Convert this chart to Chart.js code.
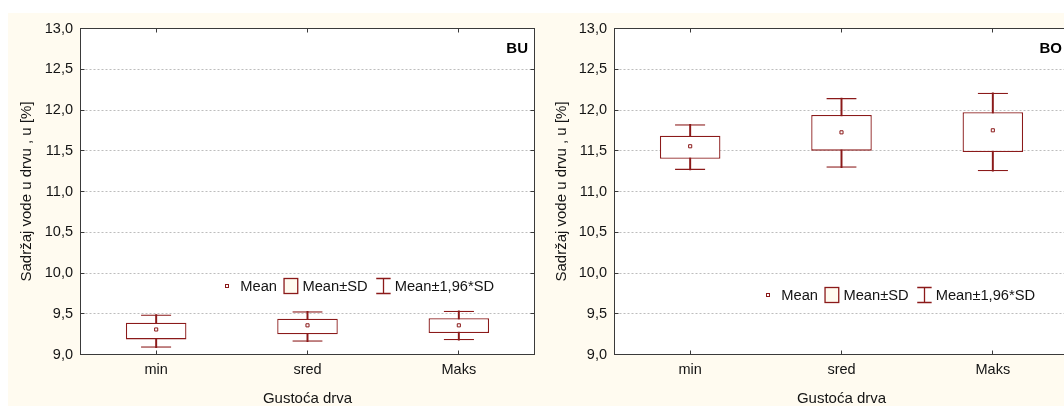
<!DOCTYPE html>
<html>
<head>
<meta charset="utf-8">
<script src="https://cdn.jsdelivr.net/npm/chart.js@4"></script>
<style>
html,body{margin:0;padding:0;background:#fff;overflow:hidden;width:1064px;height:406px;}
#bg{position:absolute;left:8px;top:13px;width:1056px;height:393px;background:#fffbf0;}
.p{position:absolute;top:0;width:540px;height:406px;}
canvas{display:block;}
</style>
</head>
<body>
<div id="bg"></div>
<div class="p" style="left:0px"><canvas id="c1" width="540" height="406"></canvas></div>
<div class="p" style="left:540px"><canvas id="c2" width="540" height="406"></canvas></div>
<script>
// ---------- data ----------
const categories = ['min', 'sred', 'Maks'];
const yTickValues = [9.0, 9.5, 10.0, 10.5, 11.0, 11.5, 12.0, 12.5, 13.0];
const yTickLabels = ['9,0', '9,5', '10,0', '10,5', '11,0', '11,5', '12,0', '12,5', '13,0'];
const xTitle = 'Gustoća drva';
const yTitle = 'Sadržaj vode u drvu , u [%]';
const legendLabels = ['Mean', 'Mean±SD', 'Mean±1,96*SD'];

// BU panel
const buMean   = [9.307, 9.358, 9.358];
const buSdLow  = [9.185, 9.249, 9.264];
const buSdHigh = [9.390, 9.439, 9.444];
const buCiLow  = [9.083, 9.157, 9.175];
const buCiHigh = [9.491, 9.530, 9.537];

// BO panel
const boMean   = [11.555, 11.726, 11.751];
const boSdLow  = [11.402, 11.501, 11.485];
const boSdHigh = [11.685, 11.939, 11.972];
const boCiLow  = [11.264, 11.292, 11.248];
const boCiHigh = [11.825, 12.147, 12.212];

// ---------- styling ----------
const RED = '#8b1a1a';
const FONT = '"Liberation Sans", Arial, Helvetica, sans-serif';
const TXT = '#141414';

function panelPlugin(cfg) {
  return {
    id: 'panel_' + cfg.label,
    beforeDraw(chart) {
      const a = chart.chartArea, ctx = chart.ctx;
      ctx.save();
      ctx.fillStyle = '#ffffff';
      ctx.fillRect(a.left, a.top, a.right - a.left, a.bottom - a.top);
      ctx.restore();
    },
    beforeDatasetsDraw(chart) {
      const a = chart.chartArea, ctx = chart.ctx;
      const ys = chart.scales.y, xs = chart.scales.x;
      ctx.save();
      ctx.lineWidth = 1;
      ctx.strokeStyle = '#bdbdbd';
      ctx.setLineDash([2, 2]);
      yTickValues.forEach(v => {
        if (v <= ys.min || v >= ys.max) return;
        const y = Math.floor(ys.getPixelForValue(v)) + 0.5;
        ctx.beginPath();
        ctx.moveTo(a.left + 1, y);
        ctx.lineTo(a.right - 1, y);
        ctx.stroke();
      });
      ctx.setLineDash([]);
      ctx.strokeStyle = '#3a3a3a';
      ctx.strokeRect(a.left, a.top, a.right - a.left, a.bottom - a.top);
      const T = 4;
      ctx.beginPath();
      yTickValues.forEach(v => {
        const y = Math.floor(ys.getPixelForValue(v)) + 0.5;
        ctx.moveTo(a.left, y); ctx.lineTo(a.left + T, y);
        ctx.moveTo(a.right, y); ctx.lineTo(a.right - T, y);
      });
      categories.forEach((c, i) => {
        const x = Math.floor(xs.getPixelForValue(i)) + 0.5;
        ctx.moveTo(x, a.top); ctx.lineTo(x, a.top + T);
        ctx.moveTo(x, a.bottom); ctx.lineTo(x, a.bottom - T);
      });
      ctx.stroke();
      ctx.restore();
    },
    afterDatasetsDraw(chart) {
      const a = chart.chartArea, ctx = chart.ctx;
      ctx.save();
      // legend
      const mx = Math.round(a.left + cfg.legendDx), my = Math.round(cfg.legendY);
      ctx.font = '14.7px ' + FONT;
      ctx.textBaseline = 'middle';
      ctx.textAlign = 'left';
      // mean marker
      ctx.lineWidth = 1;
      ctx.strokeStyle = RED;
      ctx.fillStyle = '#fff';
      ctx.fillRect(mx - 1.5, my - 1.5, 3, 3);
      ctx.strokeRect(mx - 1.5, my - 1.5, 3, 3);
      let x = mx + 13.3;
      ctx.fillStyle = TXT;
      ctx.fillText(legendLabels[0], x, my + 0.5);
      x += ctx.measureText(legendLabels[0]).width + 7;
      // box icon
      ctx.fillStyle = '#fffbf0';
      ctx.fillRect(x, my - 7.5, 13.7, 15);
      ctx.lineWidth = 1.3;
      ctx.strokeStyle = RED;
      ctx.strokeRect(x, my - 7.5, 13.7, 15);
      x += 13.7 + 4.7;
      ctx.fillStyle = TXT;
      ctx.fillText(legendLabels[1], x, my + 0.5);
      x += ctx.measureText(legendLabels[1]).width + 8.6;
      // I-beam icon
      const cx = Math.round(x + 7.2) + 0.5;
      ctx.beginPath();
      ctx.moveTo(x, my - 7.5); ctx.lineTo(x + 14.4, my - 7.5);
      ctx.moveTo(x, my + 7.5); ctx.lineTo(x + 14.4, my + 7.5);
      ctx.moveTo(cx, my - 7.5); ctx.lineTo(cx, my + 7.5);
      ctx.stroke();
      x += 14.4 + 4;
      ctx.fillStyle = TXT;
      ctx.fillText(legendLabels[2], x, my + 0.5);
      // panel label
      ctx.font = 'bold 15px ' + FONT;
      ctx.textAlign = 'right';
      ctx.fillStyle = '#000';
      ctx.fillText(cfg.label, a.right - 6.5, 48.5);
      ctx.restore();
    }
  };
}

function makePanel(id, cfg, mean, sdLo, sdHi, ciLo, ciHi) {
  const ci = categories.map((c, i) => [ciLo[i], ciHi[i]]);
  const sd = categories.map((c, i) => [sdLo[i], sdHi[i]]);
  return new Chart(document.getElementById(id), {
    type: 'bar',
    data: {
      labels: categories,
      datasets: [
        { label: 'stem', data: ci, grouped: false, order: 4,
          barThickness: 1.3, backgroundColor: RED, borderWidth: 0 },
        { label: 'caps', data: ci, grouped: false, order: 3,
          categoryPercentage: 1, barPercentage: 0.2,
          backgroundColor: 'rgba(0,0,0,0)', borderColor: RED,
          borderWidth: { top: 1.3, bottom: 1.3, left: 0, right: 0 }, borderSkipped: false },
        { label: legendLabels[1], data: sd, grouped: false, order: 2,
          categoryPercentage: 1, barPercentage: 0.4,
          backgroundColor: '#ffffff', borderColor: RED, borderWidth: 1.3, borderSkipped: false },
        { label: legendLabels[0], type: 'line', data: mean, order: 1, showLine: false,
          pointStyle: 'rect', pointRadius: 2.2, pointBorderWidth: 1,
          pointBorderColor: RED, pointBackgroundColor: '#ffffff', borderColor: RED }
      ]
    },
    options: {
      responsive: false,
      animation: false,
      events: [],
      layout: { padding: { left: 0, top: 28.5, right: cfg.padRight, bottom: 0 } },
      plugins: { legend: { display: false }, tooltip: { enabled: false } },
      scales: {
        x: {
          type: 'category', offset: true,
          grid: { display: false, drawTicks: false }, border: { display: false },
          ticks: { font: { family: FONT, size: 14.5, lineHeight: 1 }, color: TXT, padding: 8,
                   maxRotation: 0, autoSkip: false },
          title: { display: true, text: xTitle, color: TXT,
                   font: { family: FONT, size: 15, lineHeight: 1 }, padding: { top: 0, bottom: 0 } },
          afterFit(s) { s.height = 51.5; }
        },
        y: {
          type: 'linear', min: 9, max: 13,
          grid: { display: false, drawTicks: false }, border: { display: false },
          afterBuildTicks(s) { s.ticks = yTickValues.map(v => ({ value: v })); },
          ticks: { font: { family: FONT, size: 14.5 }, color: TXT, padding: 7.5,
                   callback: (v, i) => yTickLabels[i] },
          title: { display: true, text: yTitle, color: TXT,
                   font: { family: FONT, size: 15, lineHeight: 1 }, padding: { top: cfg.yTitlePad, bottom: 0 } },
          afterFit(s) { s.width = cfg.yWidth; }
        }
      }
    },
    plugins: [panelPlugin(cfg)]
  });
}

makePanel('c1', { label: 'BU', yWidth: 80.5, padRight: 5.5, yTitlePad: 19.5, legendDx: 146.5, legendY: 285.7 },
  buMean, buSdLow, buSdHigh, buCiLow, buCiHigh);
makePanel('c2', { label: 'BO', yWidth: 74.5, padRight: 11.5, yTitlePad: 14.5, legendDx: 153, legendY: 295 },
  boMean, boSdLow, boSdHigh, boCiLow, boCiHigh);
</script>
</body>
</html>
